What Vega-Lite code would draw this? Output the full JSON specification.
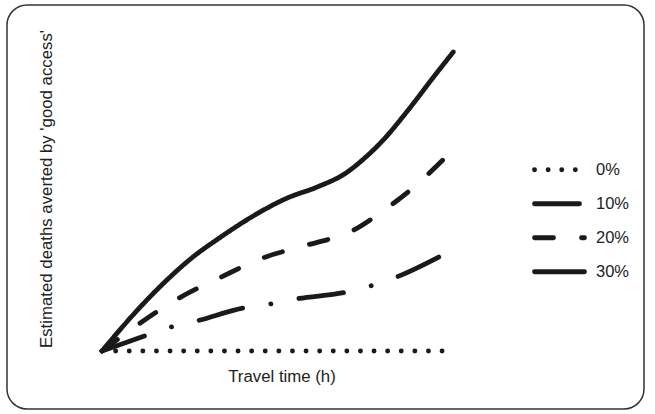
{
  "$schema": "https://vega.github.io/schema/vega-lite/v6.json",
  "width": 637,
  "height": 404,
  "padding": {"left": 7, "top": 5, "right": 11, "bottom": 5},
  "autosize": {"type": "none"},
  "background": "white",
  "config": {
    "view": {"stroke": "#333333", "strokeWidth": 1.5, "cornerRadius": 20},
    "font": "Liberation Sans"
  },
  "data": {
    "values": [
      {"s": "0%", "x": 0, "y": 0},
      {"s": "0%", "x": 10, "y": 0},
      {"s": "10%", "x": 0, "y": 0},
      {"s": "10%", "x": 1.35, "y": 5.4},
      {"s": "10%", "x": 2.02, "y": 8.0},
      {"s": "10%", "x": 2.76, "y": 10.0},
      {"s": "10%", "x": 4.16, "y": 14.4},
      {"s": "10%", "x": 4.93, "y": 15.7},
      {"s": "10%", "x": 5.69, "y": 17.4},
      {"s": "10%", "x": 7.16, "y": 19.7},
      {"s": "10%", "x": 7.86, "y": 21.7},
      {"s": "10%", "x": 8.56, "y": 24.4},
      {"s": "10%", "x": 9.94, "y": 31.8},
      {"s": "20%", "x": 0, "y": 0},
      {"s": "20%", "x": 1.04, "y": 8.7},
      {"s": "20%", "x": 2.26, "y": 17.7},
      {"s": "20%", "x": 3.49, "y": 24.7},
      {"s": "20%", "x": 4.71, "y": 31.1},
      {"s": "20%", "x": 6.04, "y": 35.5},
      {"s": "20%", "x": 7.39, "y": 40.5},
      {"s": "20%", "x": 7.95, "y": 44.5},
      {"s": "20%", "x": 8.56, "y": 49.5},
      {"s": "20%", "x": 9.11, "y": 54.5},
      {"s": "20%", "x": 10.11, "y": 65.2},
      {"s": "30%", "x": 0, "y": 0},
      {"s": "30%", "x": 1.04, "y": 13.7},
      {"s": "30%", "x": 1.9, "y": 23.7},
      {"s": "30%", "x": 2.63, "y": 31.1},
      {"s": "30%", "x": 3.48, "y": 38.1},
      {"s": "30%", "x": 4.34, "y": 44.5},
      {"s": "30%", "x": 5.44, "y": 51.2},
      {"s": "30%", "x": 6.3, "y": 54.8},
      {"s": "30%", "x": 7.15, "y": 59.5},
      {"s": "30%", "x": 7.64, "y": 63.9},
      {"s": "30%", "x": 8.25, "y": 70.6},
      {"s": "30%", "x": 8.98, "y": 80.6},
      {"s": "30%", "x": 9.72, "y": 91.6},
      {"s": "30%", "x": 10.3, "y": 100}
    ]
  },
  "mark": {"type": "line", "interpolate": "monotone", "color": "#1a1a1a", "strokeWidth": 4.8, "strokeCap": "round", "strokeJoin": "round"},
  "encoding": {
    "x": {
      "field": "x", "type": "quantitative",
      "scale": {"domain": [-2.786, 15.894], "nice": false, "zero": false},
      "axis": {"domain": false, "ticks": false, "labels": false, "grid": false,
        "title": "Travel time (h)", "titleFont": "Liberation Sans", "titleFontSize": 16.8, "titleFontWeight": "normal",
        "titleColor": "#222222", "titleX": 274.5, "titleY": -27.5, "titleBaseline": "alphabetic", "titleAlign": "center"}
    },
    "y": {
      "field": "y", "type": "quantitative",
      "scale": {"domain": [-19.4, 115.72], "nice": false, "zero": false},
      "axis": {"domain": false, "ticks": false, "labels": false, "grid": false,
        "title": "Estimated deaths averted by 'good access'", "titleFont": "Liberation Sans", "titleFontSize": 16.8, "titleFontWeight": "normal",
        "titleColor": "#222222", "titleX": 44, "titleY": 183.5, "titleAngle": -90, "titleBaseline": "alphabetic", "titleAlign": "center"}
    },
    "strokeDash": {
      "field": "s", "type": "nominal",
      "scale": {"domain": ["0%", "10%", "20%", "30%"], "range": [[0.1, 13.5], [45, 28.5, 0.1, 28.5], [19, 28], [1, 0]]},
      "legend": {"orient": "none", "legendX": 525, "legendY": 149, "title": null, "padding": 0,
        "symbolType": "stroke", "symbolSize": 2500, "symbolStrokeWidth": 4.8, "symbolStrokeColor": "#1a1a1a",
        "labelFont": "Liberation Sans", "labelFontSize": 16.5, "labelColor": "#222222", "labelOffset": 9,
        "clipHeight": 31.5, "rowPadding": 2,
        "encode": {"symbols": {"update": {"strokeCap": {"value": "round"}}}}}
    }
  }
}
